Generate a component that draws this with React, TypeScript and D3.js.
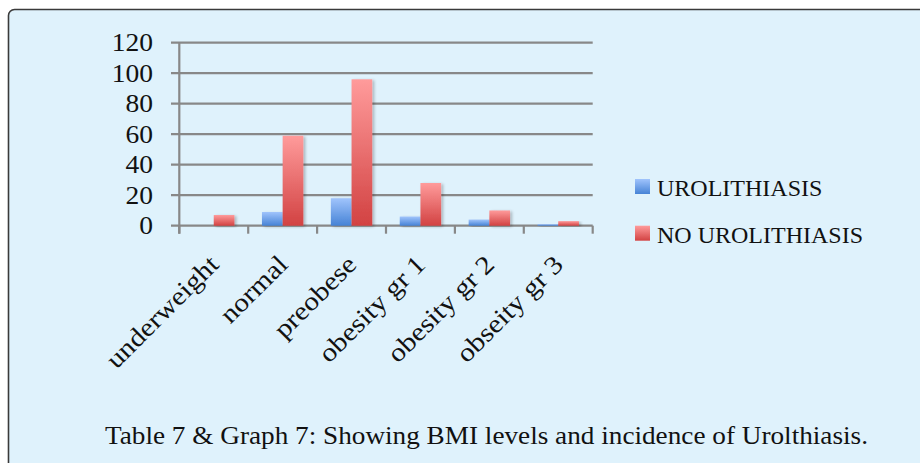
import React from "react";
import * as d3 from "d3";

const categories = ["underweight", "normal", "preobese", "obesity gr 1", "obesity gr 2", "obseity gr 3"];
const seriesNames = ["UROLITHIASIS", "NO UROLITHIASIS"];
const urolithiasis = [0, 9, 18, 6, 4, 1];
const noUrolithiasis = [7, 59, 96, 28, 10, 3];
const yTicks = [0, 20, 40, 60, 80, 100, 120];
const title = "Table 7 & Graph 7: Showing BMI levels and incidence of Urolthiasis.";

const FONT = "'Liberation Serif', 'Times New Roman', serif";

export default function App() {
  const W = 920, H = 463;
  const plotL = 179.3, plotR = 592.7, plotT = 42.7, plotB = 225.7;
  const x0 = d3.scaleBand<string>().domain(categories).range([plotL, plotR]).padding(0);
  const x1 = d3.scaleBand<string>().domain(seriesNames).range([0, x0.bandwidth()]).paddingInner(0).paddingOuter(0.665);
  const y = d3.scaleLinear().domain([0, 120]).range([plotB, plotT]);
  const values = [urolithiasis, noUrolithiasis];
  const grads = ["gBlue", "gRed"];

  return (
    <svg width={W} height={H} style={{ position: "absolute", left: 0, top: 0 }} xmlns="http://www.w3.org/2000/svg">
      <defs>
        <linearGradient id="gBlue" x1="0" y1="0" x2="0" y2="1">
          <stop offset="0" stopColor="#a0c4fc" />
          <stop offset="1" stopColor="#4683d6" />
        </linearGradient>
        <linearGradient id="gRed" x1="0" y1="0" x2="0" y2="1">
          <stop offset="0" stopColor="#ff9b9b" />
          <stop offset="1" stopColor="#d24242" />
        </linearGradient>
        <filter id="shadow" x="-20%" y="-20%" width="150%" height="140%">
          <feGaussianBlur in="SourceAlpha" stdDeviation="1.5" />
          <feOffset dx="2" dy="1" result="b" />
          <feComponentTransfer><feFuncA type="linear" slope="0.25" /></feComponentTransfer>
          <feMerge><feMergeNode /><feMergeNode in="SourceGraphic" /></feMerge>
        </filter>
      </defs>
      <rect x={0} y={0} width={W} height={H} fill="#ffffff" />
      <rect x={8.5} y={9.5} width={W + 20} height={H + 20} rx={6} ry={6} fill="#dff2fc" stroke="#3a3a3a" strokeWidth={1.6} />

      {/* gridlines */}
      {yTicks.map((t) => (
        <g key={t}>
          <line x1={171} x2={plotR} y1={y(t)} y2={y(t)} stroke="#888888" strokeWidth={2.2} />
          <text transform={`translate(153,${y(t) + 8.5}) scale(1.1,1)`} textAnchor="end" fontFamily={FONT} fontSize={25} fill="#111">{t}</text>
        </g>
      ))}
      {/* y axis */}
      <line x1={plotL} x2={plotL} y1={plotT} y2={plotB + 8} stroke="#888888" strokeWidth={2.2} />
      {/* x ticks */}
      {categories.concat(["__end"]).map((c, i) => {
        const xx = i < categories.length ? (x0(c) as number) : plotR;
        return <line key={c} x1={xx} x2={xx} y1={plotB} y2={plotB + 8} stroke="#888888" strokeWidth={2.2} />;
      })}

      {/* bars */}
      {categories.map((c, i) => (
        <g key={c} transform={`translate(${x0(c)},0)`}>
          {seriesNames.map((s, k) => {
            const v = values[k][i];
            if (v <= 0) return null;
            return (
              <rect key={s} x={x1(s)} y={y(v)} width={x1.bandwidth()} height={plotB - y(v)} fill={`url(#${grads[k]})`} filter="url(#shadow)" />
            );
          })}
        </g>
      ))}

      {/* x labels */}
      {categories.map((c) => {
        const cx = (x0(c) as number) + x0.bandwidth() / 2 + 6.5;
        const cy = 266;
        return (
          <text key={c} transform={`translate(${cx},${cy}) rotate(-45) scale(1.13,1)`} textAnchor="end" fontFamily={FONT} fontSize={26} fill="#111">{c}</text>
        );
      })}

      {/* legend */}
      {seriesNames.map((s, k) => (
        <g key={s} transform={`translate(635,${179 + k * 46.7})`}>
          <rect x={0} y={0} width={15} height={15} fill={`url(#${grads[k]})`} />
          <text x={22} y={17} fontFamily={FONT} fontSize={24} fill="#111">{s}</text>
        </g>
      ))}

      <text x={105} y={444} fontFamily={FONT} fontSize={26} fill="#111" textLength={763} lengthAdjust="spacingAndGlyphs">{title}</text>
    </svg>
  );
}
